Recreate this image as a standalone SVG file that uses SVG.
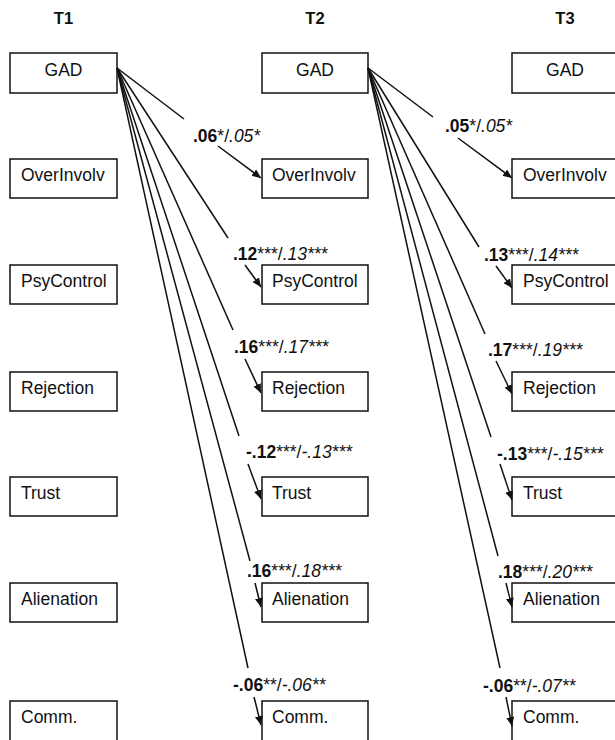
<svg xmlns="http://www.w3.org/2000/svg" width="615" height="740" viewBox="0 0 615 740">
<style>
  text { font-family: "Liberation Sans", Arial, sans-serif; fill: #111; }
  .hdr { font-size: 16.5px; font-weight: bold; text-anchor: middle; }
  .box { fill: #fff; stroke: #111; stroke-width: 1.5; }
  .lbl { font-size: 17.5px; }
  .ctr { text-anchor: middle; }
  .lab { font-size: 17.5px; }
  .b { font-weight: bold; }
  .i { font-style: italic; }
  .ln { stroke: #111; stroke-width: 1.5; fill: none; }
  .ar { stroke: #111; stroke-width: 1.5; fill: none; marker-end: url(#ah); }
</style>
<defs>
  <marker id="ah" markerUnits="userSpaceOnUse" markerWidth="10" markerHeight="8" refX="9" refY="4" orient="auto">
    <path d="M0,0 L9,4 L0,8 Z" fill="#111"/>
  </marker>
</defs>
<rect width="615" height="740" fill="#fff"/>

<g id="headers">
  <text class="hdr" x="63.5" y="24">T1</text>
  <text class="hdr" x="315" y="24">T2</text>
  <text class="hdr" x="565" y="24">T3</text>
</g>

<!-- T1 column -->
<g id="t1-gad"><rect class="box" x="10" y="53" width="107" height="40"/><text class="lbl ctr" x="63.5" y="76">GAD</text></g>
<g id="t1-overinvolv"><rect class="box" x="10" y="159" width="107" height="39"/><text class="lbl" x="21" y="181">OverInvolv</text></g>
<g id="t1-psycontrol"><rect class="box" x="10" y="265" width="107" height="39"/><text class="lbl" x="21" y="287">PsyControl</text></g>
<g id="t1-rejection"><rect class="box" x="10" y="372" width="107" height="39"/><text class="lbl" x="21" y="394">Rejection</text></g>
<g id="t1-trust"><rect class="box" x="10" y="477" width="107" height="39"/><text class="lbl" x="21" y="499">Trust</text></g>
<g id="t1-alienation"><rect class="box" x="10" y="583" width="107" height="39"/><text class="lbl" x="21" y="605">Alienation</text></g>
<g id="t1-comm"><rect class="box" x="10" y="701" width="107" height="60"/><text class="lbl" x="21" y="723">Comm.</text></g>

<!-- T2 column -->
<g id="t2-gad"><rect class="box" x="262" y="53" width="106" height="40"/><text class="lbl ctr" x="315" y="76">GAD</text></g>
<g id="t2-overinvolv"><rect class="box" x="262" y="159" width="106" height="39"/><text class="lbl" x="272" y="181">OverInvolv</text></g>
<g id="t2-psycontrol"><rect class="box" x="262" y="265" width="106" height="39"/><text class="lbl" x="272" y="287">PsyControl</text></g>
<g id="t2-rejection"><rect class="box" x="262" y="372" width="106" height="39"/><text class="lbl" x="272" y="394">Rejection</text></g>
<g id="t2-trust"><rect class="box" x="262" y="477" width="106" height="39"/><text class="lbl" x="272" y="499">Trust</text></g>
<g id="t2-alienation"><rect class="box" x="262" y="583" width="106" height="39"/><text class="lbl" x="272" y="605">Alienation</text></g>
<g id="t2-comm"><rect class="box" x="262" y="701" width="106" height="60"/><text class="lbl" x="272" y="723">Comm.</text></g>

<!-- T3 column -->
<g id="t3-gad"><rect class="box" x="512" y="53" width="106" height="40"/><text class="lbl ctr" x="565" y="76">GAD</text></g>
<g id="t3-overinvolv"><rect class="box" x="512" y="159" width="106" height="39"/><text class="lbl" x="523" y="181">OverInvolv</text></g>
<g id="t3-psycontrol"><rect class="box" x="512" y="265" width="106" height="39"/><text class="lbl" x="523" y="287">PsyControl</text></g>
<g id="t3-rejection"><rect class="box" x="512" y="372" width="106" height="39"/><text class="lbl" x="523" y="394">Rejection</text></g>
<g id="t3-trust"><rect class="box" x="512" y="477" width="106" height="39"/><text class="lbl" x="523" y="499">Trust</text></g>
<g id="t3-alienation"><rect class="box" x="512" y="583" width="106" height="39"/><text class="lbl" x="523" y="605">Alienation</text></g>
<g id="t3-comm"><rect class="box" x="512" y="701" width="106" height="60"/><text class="lbl" x="523" y="723">Comm.</text></g>

<g id="connectors">
  <!-- T1 GAD to T2 -->
  <path class="ln" d="M117,68 L184,119"/>
  <path class="ar" d="M218,146 L261,178"/>
  <path class="ln" d="M117,68 L228,238"/>
  <path class="ar" d="M245,265 L261,287"/>
  <path class="ln" d="M117,68 L233,330"/>
  <path class="ar" d="M245,359 L261,393"/>
  <path class="ln" d="M117,68 L239,436"/>
  <path class="ar" d="M248,464 L261,499"/>
  <path class="ln" d="M117,68 L250,561"/>
  <path class="ar" d="M255,583 L261,607"/>
  <path class="ln" d="M117,68 L248,668"/>
  <path class="ar" d="M254,697 L261,725"/>
  <!-- T2 GAD to T3 -->
  <path class="ln" d="M368,68 L433,117"/>
  <path class="ar" d="M458,138 L512,178"/>
  <path class="ln" d="M368,68 L479,247"/>
  <path class="ar" d="M496,266 L512,288"/>
  <path class="ln" d="M368,68 L485,334"/>
  <path class="ar" d="M496,361 L512,394"/>
  <path class="ln" d="M368,68 L491,437"/>
  <path class="ar" d="M500,464 L512,500"/>
  <path class="ln" d="M368,68 L498,556"/>
  <path class="ar" d="M506,583 L512,607"/>
  <path class="ln" d="M368,68 L500,668"/>
  <path class="ar" d="M506,697 L512,726"/>

  <!-- labels T1->T2 -->
  <text class="lab" x="193" y="142"><tspan class="b">.06</tspan>*/<tspan class="i">.05*</tspan></text>
  <text class="lab" x="233" y="260"><tspan class="b">.12</tspan>***/<tspan class="i">.13***</tspan></text>
  <text class="lab" x="234" y="353"><tspan class="b">.16</tspan>***/<tspan class="i">.17***</tspan></text>
  <text class="lab" x="246" y="458"><tspan class="b">-.12</tspan>***/<tspan class="i">-.13***</tspan></text>
  <text class="lab" x="247" y="577"><tspan class="b">.16</tspan>***/<tspan class="i">.18***</tspan></text>
  <text class="lab" x="233" y="691"><tspan class="b">-.06</tspan>**/<tspan class="i">-.06**</tspan></text>
  <!-- labels T2->T3 -->
  <text class="lab" x="445" y="132"><tspan class="b">.05</tspan>*/<tspan class="i">.05*</tspan></text>
  <text class="lab" x="484" y="261"><tspan class="b">.13</tspan>***/<tspan class="i">.14***</tspan></text>
  <text class="lab" x="488" y="356"><tspan class="b">.17</tspan>***/<tspan class="i">.19***</tspan></text>
  <text class="lab" x="497" y="460"><tspan class="b">-.13</tspan>***/<tspan class="i">-.15***</tspan></text>
  <text class="lab" x="498" y="578"><tspan class="b">.18</tspan>***/<tspan class="i">.20***</tspan></text>
  <text class="lab" x="483" y="692"><tspan class="b">-.06</tspan>**/<tspan class="i">-.07**</tspan></text>
</g>
</svg>
